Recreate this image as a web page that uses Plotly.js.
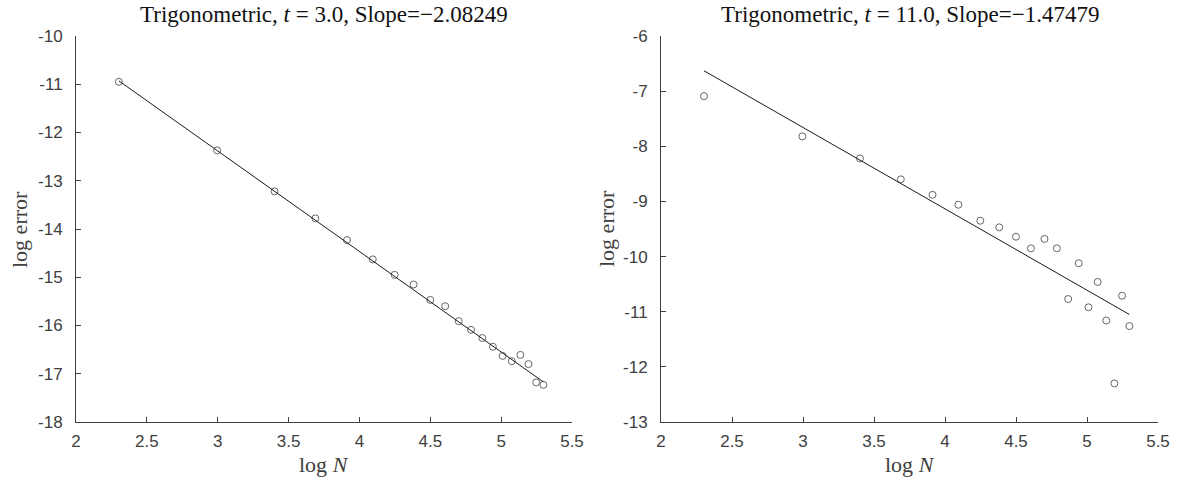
<!DOCTYPE html>
<html>
<head>
<meta charset="utf-8">
<script src="https://cdn.plot.ly/plotly-3.0.1.min.js"></script>
<style>html,body{margin:0;padding:0;background:#fff;}#chart{width:1179px;height:481px;}</style>
</head>
<body>
<div id="chart"></div>
<script>
// log N values (N = 10 ... 200)
const logN = [2.3026, 2.9957, 3.4012, 3.6889, 3.9120, 4.0943, 4.2485, 4.3820, 4.4998, 4.6052,
              4.7005, 4.7875, 4.8675, 4.9416, 5.0106, 5.0752, 5.1358, 5.1930, 5.2470, 5.2983];
// left panel: t = 3.0
const errLeft = [-10.95, -12.37, -13.22, -13.78, -14.23, -14.63, -14.95, -15.15, -15.47, -15.60,
                 -15.91, -16.09, -16.26, -16.44, -16.63, -16.74, -16.61, -16.80, -17.18, -17.23];
const fitXLeft = [2.3026, 5.2983];
const fitYLeft = [-10.93, -17.17];
// right panel: t = 11.0
const errRight = [-7.09, -7.82, -8.22, -8.60, -8.88, -9.06, -9.35, -9.47, -9.64, -9.85,
                  -9.68, -9.85, -10.77, -10.12, -10.92, -10.46, -11.16, -12.30, -10.71, -11.26];
const fitXRight = [2.3026, 5.2983];
const fitYRight = [-6.63, -11.05];

const xTicks = [2, 2.5, 3, 3.5, 4, 4.5, 5, 5.5];
const xTickText = ['2', '2.5', '3', '3.5', '4', '4.5', '5', '5.5'];
const yTicksLeft = [-18, -17, -16, -15, -14, -13, -12, -11, -10];
const yTickTextLeft = ['-18', '-17', '-16', '-15', '-14', '-13', '-12', '-11', '-10'];
const yTicksRight = [-13, -12, -11, -10, -9, -8, -7, -6];
const yTickTextRight = ['-13', '-12', '-11', '-10', '-9', '-8', '-7', '-6'];

const titleLeft = 'Trigonometric, <i>t</i> = 3.0, Slope=\u22122.08249';
const titleRight = 'Trigonometric, <i>t</i> = 11.0, Slope=\u22121.47479';

const axisColor = '#404040';
const tickFont = {family: 'Liberation Sans, Arial, sans-serif', size: 17, color: '#404040'};
const serif = 'Liberation Serif, Times New Roman, serif';

const marker = {symbol: 'circle-open', size: 7, color: '#666666', line: {width: 1, color: '#666666'}};
const fitLine = {color: '#1a1a1a', width: 1};

const traces = [
  {x: logN, y: errLeft, mode: 'markers', marker: marker, xaxis: 'x', yaxis: 'y', showlegend: false, hoverinfo: 'x+y'},
  {x: fitXLeft, y: fitYLeft, mode: 'lines', line: fitLine, xaxis: 'x', yaxis: 'y', showlegend: false},
  {x: logN, y: errRight, mode: 'markers', marker: marker, xaxis: 'x2', yaxis: 'y2', showlegend: false, hoverinfo: 'x+y'},
  {x: fitXRight, y: fitYRight, mode: 'lines', line: fitLine, xaxis: 'x2', yaxis: 'y2', showlegend: false}
];

function xAxis(domain, anchor) {
  return {domain: domain, anchor: anchor, range: [2, 5.5], tickvals: xTicks, ticktext: xTickText,
    ticks: 'inside', ticklen: 5, tickcolor: axisColor, tickwidth: 1, showline: true, linecolor: axisColor,
    linewidth: 1, mirror: false, showgrid: false, zeroline: false, tickfont: tickFont, fixedrange: true,
    ticklabelstandoff: 4};
}
function yAxis(domain, anchor, range, vals, text) {
  return {domain: domain, anchor: anchor, range: range, tickvals: vals, ticktext: text,
    ticks: 'inside', ticklen: 5, tickcolor: axisColor, tickwidth: 1, showline: true, linecolor: axisColor,
    linewidth: 1, mirror: false, showgrid: false, zeroline: false, tickfont: tickFont, fixedrange: true,
    ticklabelstandoff: 9};
}

const yDom = [1 - 422 / 481, 1 - 36 / 481];
const xDomL = [76 / 1179, 572 / 1179];
const xDomR = [661 / 1179, 1158 / 1179];

const layout = {
  width: 1179, height: 481,
  margin: {l: 0, r: 0, t: 0, b: 0},
  paper_bgcolor: '#ffffff', plot_bgcolor: '#ffffff',
  xaxis: xAxis(xDomL, 'y'),
  yaxis: yAxis(yDom, 'x', [-18, -10], yTicksLeft, yTickTextLeft),
  xaxis2: xAxis(xDomR, 'y2'),
  yaxis2: yAxis(yDom, 'x2', [-13, -6], yTicksRight, yTickTextRight),
  annotations: [
    {text: titleLeft, xref: 'paper', yref: 'paper', x: (xDomL[0] + xDomL[1]) / 2, y: 1 - 14 / 481,
     xanchor: 'center', yanchor: 'middle', showarrow: false, font: {family: serif, size: 23, color: '#111'}},
    {text: titleRight, xref: 'paper', yref: 'paper', x: (xDomR[0] + xDomR[1]) / 2, y: 1 - 14 / 481,
     xanchor: 'center', yanchor: 'middle', showarrow: false, font: {family: serif, size: 23, color: '#111'}},
    {text: 'log <i>N</i>', xref: 'paper', yref: 'paper', x: (xDomL[0] + xDomL[1]) / 2, y: 1 - 464 / 481,
     xanchor: 'center', yanchor: 'middle', showarrow: false, font: {family: serif, size: 22, color: '#404040'}},
    {text: 'log <i>N</i>', xref: 'paper', yref: 'paper', x: (xDomR[0] + xDomR[1]) / 2, y: 1 - 464 / 481,
     xanchor: 'center', yanchor: 'middle', showarrow: false, font: {family: serif, size: 22, color: '#404040'}},
    {text: 'log error', xref: 'paper', yref: 'paper', x: 19 / 1179, y: (yDom[0] + yDom[1]) / 2,
     xanchor: 'center', yanchor: 'middle', textangle: -90, showarrow: false, font: {family: serif, size: 22, color: '#404040'}},
    {text: 'log error', xref: 'paper', yref: 'paper', x: 606 / 1179, y: (yDom[0] + yDom[1]) / 2,
     xanchor: 'center', yanchor: 'middle', textangle: -90, showarrow: false, font: {family: serif, size: 22, color: '#404040'}}
  ]
};

Plotly.newPlot('chart', traces, layout, {displayModeBar: false, staticPlot: true});
</script>
</body>
</html>
